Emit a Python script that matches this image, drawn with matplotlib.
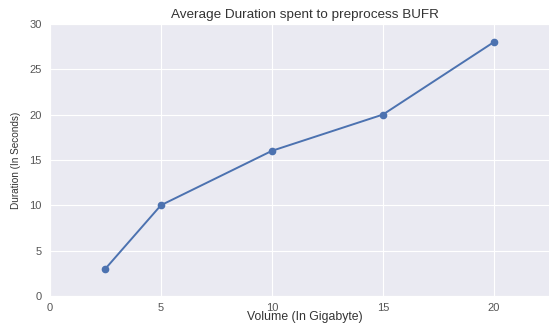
import matplotlib
matplotlib.use("Agg")
import matplotlib.pyplot as plt
import seaborn as sns

volume_gb = [2.5, 5, 10, 15, 20]
duration_s = [3, 10, 16, 20, 28]
x_ticks = [0, 5, 10, 15, 20]
y_ticks = [0, 5, 10, 15, 20, 25, 30]

sns.set_style("darkgrid")
plt.rcParams['font.family'] = ['Liberation Sans', 'DejaVu Sans']

fig = plt.figure(figsize=(5.49, 3.23), dpi=100)
# axes run a little past the right edge, as in the original crop
ax = fig.add_axes([0.091, 0.084, 0.93, 0.842])

ax.plot(volume_gb, duration_s, color='#4C72B0', marker='o', markersize=4.5, linewidth=1.4)

ax.set_xlim(0, 23)
ax.set_ylim(0, 30)
ax.set_xticks(x_ticks)
ax.set_yticks(y_ticks)
ax.tick_params(labelsize=8, colors='#555555', length=0, pad=6)
ax.tick_params(axis='x', pad=5)

ax.set_title('Average Duration spent to preprocess BUFR', fontsize=9.7, color='#333333', pad=4)
ax.set_xlabel('Volume (In Gigabyte)', fontsize=8.8, color='#333333', labelpad=-1)
ax.set_ylabel('Duration (In Seconds)', fontsize=7.2, color='#333333', labelpad=6)

fig.savefig('out.png', dpi=100)
